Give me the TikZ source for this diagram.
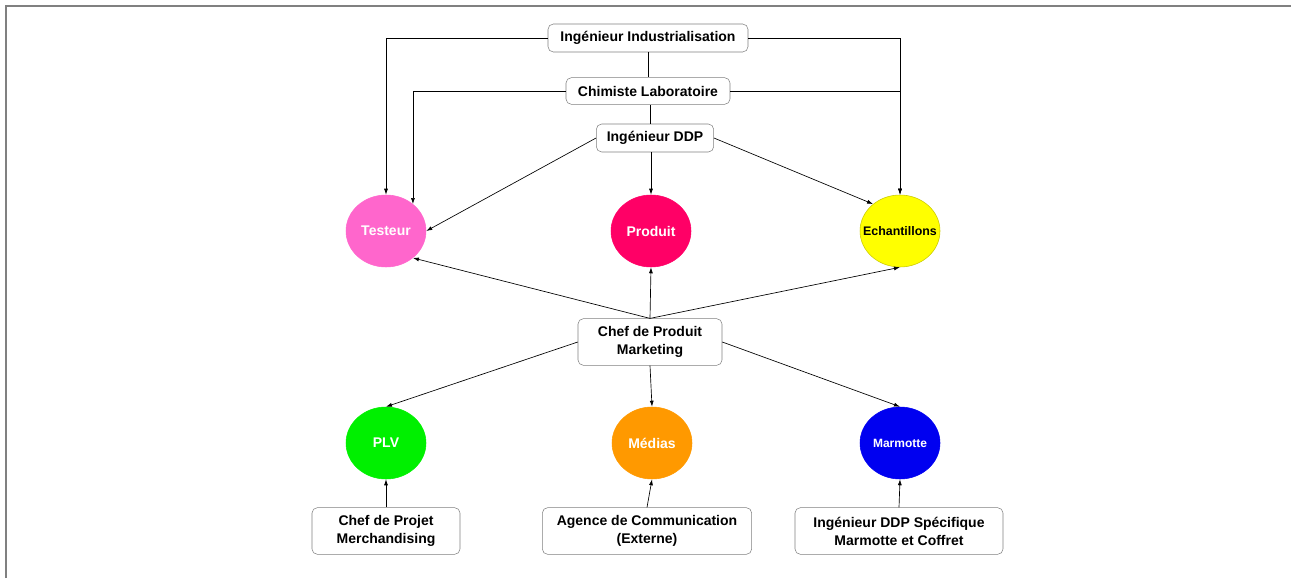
\documentclass[tikz,border=0pt]{standalone}
\usepackage{fontspec}
\setmainfont{Liberation Sans}
\usetikzlibrary{shapes.geometric,arrows.meta}

\definecolor{testeurcol}{HTML}{FF66CC}
\definecolor{produitcol}{HTML}{FF0066}
\definecolor{echantcol}{HTML}{FFFF00}
\definecolor{echantline}{HTML}{C8C800}
\definecolor{plvcol}{HTML}{00F000}
\definecolor{mediascol}{HTML}{FF9900}
\definecolor{marmottecol}{HTML}{0000F0}

\tikzstyle{role} = [draw=gray, rounded corners=4pt, fill=white, align=center, inner sep=2pt,
    font=\fontsize{10.5}{13.5}\selectfont\bfseries]
\tikzstyle{pole} = [ellipse, minimum width=60pt, minimum height=54pt, inner sep=0pt,
    text=white, font=\fontsize{10.5}{12}\selectfont\bfseries]
\tikzstyle{link} = [-{Latex[length=4.5pt,width=3pt]}, line width=0.5pt]

\begin{document}
\begin{tikzpicture}[x=0.75pt, y=-0.75pt]
\useasboundingbox (0,0) rectangle (1291,578);
\draw[gray, line width=1.5pt] (6,578) -- (6,6) -- (1291,6);

% roles du haut
\node[role, minimum width=150pt, minimum height=21pt] (ind) at (648,38) {Ingénieur Industrialisation};
\node[role, minimum width=123pt, minimum height=20pt] (chim) at (648,91) {Chimiste Laboratoire};
\node[role, minimum width=88pt, minimum height=21pt] (ddp) at (655,138) {Ingénieur DDP};

% poles
\node[pole, fill=testeurcol, draw=testeurcol] (testeur) at (386,231) {Testeur};
\node[pole, fill=produitcol, draw=produitcol] (produit) at (651,231) {Produit};
\node[pole, fill=echantcol, draw=echantline, text=black, font=\fontsize{9.3}{11}\selectfont\bfseries] (echant) at (900,231) {\makebox[0pt]{Echantillons}};

\node[role, minimum width=108pt, minimum height=35pt] (cpm) at (650,342) {Chef de Produit\\Marketing};

\node[pole, fill=plvcol, draw=plvcol] (plv) at (386,443) {PLV};
\node[pole, fill=mediascol, draw=mediascol] (medias) at (652,443) {Médias};
\node[pole, fill=marmottecol, draw=marmottecol, font=\fontsize{9}{11}\selectfont\bfseries] (marmotte) at (900,443) {Marmotte};

% roles du bas
\node[role, minimum width=111pt, minimum height=35pt] (cdpm) at (386,531) {Chef de Projet\\Merchandising};
\node[role, minimum width=157pt, minimum height=35pt] (agence) at (647,531) {Agence de Communication\\(Externe)};
\node[role, minimum width=156pt, minimum height=35pt] (iddps) at (899,531) {Ingénieur DDP Spécifique\\Marmotte et Coffret};

% liens
\draw[line width=0.5pt] (ind.south) -- (chim.north);
\draw[line width=0.5pt] (650,105) -- (650,124);
\draw[link] (ind.west) -| (testeur.north);
\draw[link] (ind.east) -| (echant.north);
\draw[link] (chim.west) -| (testeur.45);
\draw[link] (chim.east) -| (echant.north);
\draw[link] (ddp.west) -- (testeur.east);
\draw[link] (produit.north |- ddp.south) -- (produit.north);
\draw[link] (ddp.east) -- (echant.135);

\draw[link] (cpm.north) -- (testeur.-45);
\draw[link] (cpm.north) -- (produit.south);
\draw[link] (cpm.north) -- (echant.south);
\draw[link] (cpm.west) -- (plv.north);
\draw[link] (cpm.south) -- (medias.north);
\draw[link] (cpm.east) -- (marmotte.north);

\draw[link] (cdpm.north) -- (plv.south);
\draw[link] (agence.north) -- (medias.south);
\draw[link] (iddps.north) -- (marmotte.south);
\end{tikzpicture}
\end{document}
